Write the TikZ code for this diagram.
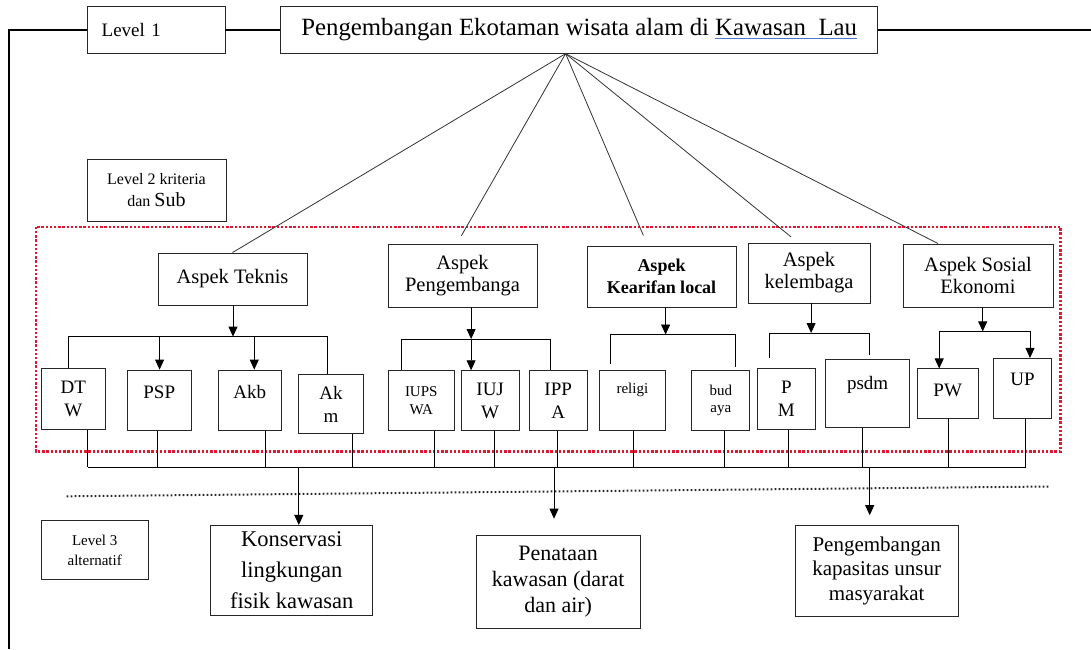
\documentclass[tikz,border=0pt]{standalone}
\usepackage{fontspec}
\setmainfont{Liberation Serif}
\usetikzlibrary{arrows.meta,calc}
\definecolor{reddot}{HTML}{E0182D}
\definecolor{ulblue}{HTML}{4A78C8}
\newcommand\blueul[1]{\setbox0=\hbox{#1}\rlap{\color{ulblue}\rule[-3.5pt]{\wd0}{1.2pt}}\box0}
\begin{document}
\begin{tikzpicture}[x=1pt,y=-1pt,
  box/.style={draw=black!85, line width=0.9pt, inner sep=0pt, align=center, fill=white},
  aspek/.style={box, font=\fontsize{20.5}{22}\selectfont},
  sub/.style={box, font=\fontsize{19}{23}\selectfont},
  subsmall/.style={box, font=\fontsize{15}{17.5}\selectfont},
  alt/.style={box, font=\fontsize{22}{26}\selectfont},
  ln/.style={line width=0.8pt},
  apx/.style={line width=0.8pt, black!80},
  arr/.style={line width=0.8pt, -{Triangle[width=9pt,length=10pt]}},
  outerline/.style={line width=2pt},
  reddots/.style={reddot, line width=2.4pt, dash pattern=on 2.4pt off 1.8pt},
  blackdots/.style={black!85, line width=2pt, dash pattern=on 1.8pt off 2.2pt}]
\useasboundingbox (0,0) rectangle (1091,649);

% red dotted frame of level 2
\draw[reddots] (35.8,226.7) rectangle (1060.5,451.3);

% level 1
\node[box, minimum width=138pt, minimum height=47pt, text width=108.6pt, align=left,
      font=\fontsize{19}{22}\selectfont] (lvl1) at (156,29.7) {Level 1};
\node[box, minimum width=597pt, minimum height=47pt, font=\fontsize{24.8}{28}\selectfont]
      (title) at (579.2,29.7) {Pengembangan Ekotaman wisata alam di \blueul{Kawasan\ \ Lau}};

% level 2 label
\node[box, minimum width=139pt, minimum height=62pt, font=\fontsize{16}{22}\selectfont]
      (lvl2) at (156.5,190) {Level 2 kriteria\\dan {\fontsize{20}{22}\selectfont Sub}};

% aspects
\node[aspek, minimum width=149pt, minimum height=52pt] (teknis) at (232.5,279) {Aspek Teknis};
\node[aspek, minimum width=149pt, minimum height=63pt] (pengemb) at (462.5,275.5) {Aspek\\Pengembanga};
\node[box, minimum width=149pt, minimum height=61pt, font=\fontsize{18}{22}\selectfont\bfseries]
      (kearifan) at (661.5,276.5) {Aspek\\Kearifan local};
\node[aspek, minimum width=122pt, minimum height=60pt] (kelembaga) at (809,273) {Aspek\\kelembaga};
\node[aspek, minimum width=150pt, minimum height=63pt] (sosial) at (978,275.5) {Aspek Sosial\\Ekonomi};

% sub criteria
\node[sub, minimum width=63.8pt, minimum height=60.3pt] (dtw) at (73.3,399) {DT\\W};
\node[sub, minimum width=64.5pt, minimum height=60.3pt, text depth=17pt] (psp) at (159.25,400.2) {PSP};
\node[sub, minimum width=63.1pt, minimum height=60.3pt, text depth=17pt] (akb) at (249.75,400.2) {Akb};
\node[sub, minimum width=64.2pt, minimum height=59.6pt] (akm) at (330.9,404) {Ak\\m};
\node[subsmall, minimum width=65.9pt, minimum height=59.6pt] (iupswa) at (421.25,400.5) {IUPS\\WA};
\node[sub, minimum width=57.9pt, minimum height=59.6pt] (iujw) at (490.15,400.5) {IUJ\\W};
\node[sub, minimum width=58.4pt, minimum height=59.6pt] (ippa) at (558.2,400.5) {IPP\\A};
\node[subsmall, minimum width=65.6pt, minimum height=59.6pt, text depth=24.6pt] (religi) at (632.4,400.5) {religi};
\node[subsmall, minimum width=57.9pt, minimum height=59.6pt] (budaya) at (720.85,400.5) {bud\\aya};
\node[sub, minimum width=57.8pt, minimum height=60.3pt] (pm) at (786.4,399) {P\\M};
\node[sub, minimum width=83.4pt, minimum height=68.1pt, text depth=21pt] (psdm) at (867.6,393.45) {psdm};
\node[sub, minimum width=61.4pt, minimum height=49.1pt, text depth=7pt] (pw) at (947.7,393.45) {PW};
\node[sub, minimum width=57.9pt, minimum height=59.6pt, text depth=17.6pt] (up) at (1022.45,388.2) {UP};

% level 3
\node[box, minimum width=106.6pt, minimum height=58.9pt, font=\fontsize{15}{19.3}\selectfont]
      (lvl3) at (94.7,550.35) {Level 3\\alternatif};
\node[alt, minimum width=162.4pt, minimum height=90.2pt, font=\fontsize{22.5}{31}\selectfont]
      (konserv) at (291.7,570.5) {Konservasi\\lingkungan\\fisik kawasan};
\node[alt, minimum width=163.7pt, minimum height=92.9pt] (penataan) at (558.15,582.05) {Penataan\\kawasan (darat\\dan air)};
\node[alt, minimum width=162.8pt, minimum height=90.9pt, font=\fontsize{21}{24.5}\selectfont]
      (pengkap) at (876.7,570.85) {Pengembangan\\kapasitas unsur\\masyarakat};

% outer frame lines
\draw[outerline] (lvl1.west) -- (8.8,29.7) -- (8.8,649);
\draw[outerline] (lvl1.east) -- (title.west);
\draw[outerline] (title.east) -- (1091,29.7);

% lines from goal to aspects
\coordinate (apex) at ([xshift=-13.6pt]title.south);
\draw[apx] (apex) -- (teknis.north);
\draw[apx, shorten >=9pt] (apex) -- ([xshift=-5.6pt]pengemb.north);
\draw[apx, shorten >=11pt] (apex) -- ([xshift=-13.8pt]kearifan.north);
\draw[apx, shorten >=9pt] (apex) -- ([xshift=-11pt]kelembaga.north);
\draw[apx] (apex) -- ([xshift=-40pt]sosial.north);

% tree: teknis
\coordinate (tj) at (233,336.6);
\draw[arr] (tj |- teknis.south) -- (tj);
\coordinate (tdtw) at ([xshift=-4.9pt]dtw.north);
\coordinate (takm) at ([xshift=-3.6pt]akm.north);
\draw[ln] (tdtw) |- (tj) -| (takm);
\coordinate (tpsp) at ([xshift=0.35pt]psp.north);
\draw[arr] (tpsp |- tj) -- (tpsp);
\coordinate (takb) at ([xshift=4.5pt]akb.north);
\draw[arr] (takb |- tj) -- (takb);

% tree: pengembangan
\coordinate (pj) at (471.1,339);
\draw[arr] (pj |- pengemb.south) -- (pj);
\coordinate (piups) at ([xshift=-20.35pt]iupswa.north);
\coordinate (pippa) at ([xshift=-7.7pt]ippa.north);
\draw[ln] (piups) |- (pj) -| (pippa);
\draw[arr] (pj) -- (pj |- iujw.north);

% tree: kearifan
\coordinate (kj) at (665.6,334.5);
\draw[arr] (kj |- kearifan.south) -- (kj);
\coordinate (kreligi) at ([xshift=-22.2pt]religi.north);
\coordinate (kbudaya) at ([xshift=14.55pt]budaya.north);
\draw[ln, shorten <=6pt, shorten >=3.5pt] (kreligi) |- (kj) -| (kbudaya);

% tree: kelembaga
\coordinate (lj) at (811.1,333);
\draw[arr] (lj |- kelembaga.south) -- (lj);
\coordinate (lpm) at ([xshift=-16.7pt]pm.north);
\coordinate (lpsdm) at ([xshift=2.1pt]psdm.north);
\draw[ln, shorten <=10.5pt, shorten >=3.8pt] (lpm) |- (lj) -| (lpsdm);

% tree: sosial
\coordinate (sj) at (982.7,331.4);
\draw[arr] (sj |- sosial.south) -- (sj);
\coordinate (spw) at ([xshift=-8.5pt]pw.north);
\coordinate (sup) at ([xshift=7.55pt]up.north);
\draw[ln] (spw |- sj) -- (sup |- sj);
\draw[arr] (spw |- sj) -- (spw);
\draw[arr] (sup |- sj) -- (sup);

% bottom bus
\coordinate (busL) at (87.7,467);
\coordinate (busR) at (1025.8,467);
\draw[ln] (busL) -- (busR);
\foreach \n/\dx in {dtw/14.4, psp/-1.5, akb/15.8, akm/21.6, iupswa/12.65, iujw/4.45, ippa/-0.7,
                    religi/0.6, budaya/3.25, pm/1.9, psdm/-5.6, pw/0.2, up/3.35}{
  \coordinate (b\n) at ([xshift=\dx pt]\n.south);
  \draw[ln] (b\n) -- (b\n |- busL);
}

% separator between level 2 and 3
\draw[blackdots] (66.6,496.3) -- (1048.6,486.5);

% arrows to alternatives
\coordinate (a1) at ([xshift=7.1pt]konserv.north);
\draw[arr] (a1 |- busL) -- (a1);
\coordinate (a2) at ([xshift=-4.15pt]penataan.north);
\draw[arr, shorten >=16.5pt] (a2 |- busL) -- (a2);
\coordinate (a3) at ([xshift=-7pt]pengkap.north);
\draw[arr, shorten >=9.8pt] (a3 |- busL) -- (a3);
\end{tikzpicture}
\end{document}
